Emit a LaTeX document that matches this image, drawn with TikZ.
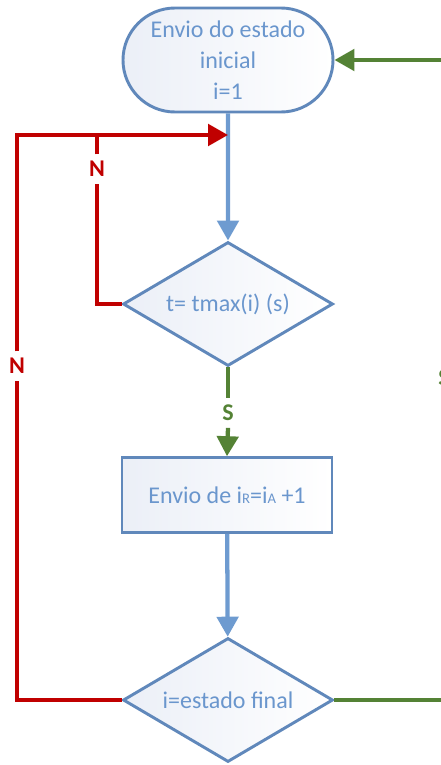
\documentclass[tikz,border=0pt]{standalone}
\usepackage{fontspec}
\setmainfont{Carlito}
\usepackage{xcolor}
\usetikzlibrary{shapes.geometric,shapes.misc,arrows.meta}

\definecolor{flowred}{HTML}{C00000}
\definecolor{flowgreen}{HTML}{548235}
\definecolor{flowblue}{HTML}{6E9BD0}
\definecolor{boxline}{HTML}{6088BB}
\definecolor{boxtext}{HTML}{6A96CD}
\definecolor{boxfill}{HTML}{EBEFF7}

\tikzset{
	box/.style={draw=boxline, line width=2.2pt, left color=boxfill, right color=white,
		text=boxtext, font=\fontsize{18}{23.25}\selectfont, align=center, inner sep=0pt},
	startbox/.style={box, rounded rectangle, minimum width=157.5pt, minimum height=78pt},
	decision/.style={box, diamond, aspect=1.7, minimum width=157.5pt, minimum height=93pt},
	process/.style={box, rectangle, minimum width=157.5pt, minimum height=56pt},
	link/.style={line width=3.2pt},
	tip/.style={-{Triangle[length=15pt,width=16pt]}},
	answer/.style={font=\bfseries\fontsize{18}{18}\selectfont, inner sep=5pt}
}

\begin{document}
\begin{tikzpicture}[x=0.75pt, y=-0.75pt]
		\useasboundingbox (0,0) rectangle (440,765);
		\node[startbox] (start) at (228,60) {Envio do estado\\inicial\\i=1};
		\node[decision] (check) at (228,304) {t= tmax(i) (s)};
		\node[process] (send) at (227,495) {Envio de i{\fontsize{11}{11}\selectfont R}=i{\fontsize{11}{11}\selectfont A} +1};
		\node[decision] (last) at (228,700) {i=estado final};
		\coordinate (join) at (228,135);
		\coordinate (inner) at (97,135);
		\node[answer, text=flowred] (n1) at (97,169) {N};
		\node[answer, text=flowred] (n2) at (17,366) {N};
		\node[answer, text=flowgreen] (s1) at (228,413) {S};
		\node[answer, text=flowgreen] (s2) at (444,378) {S};
		\draw[link, tip, color=flowblue] (start) -- (check);
		\draw[link, tip, color=flowblue] (send) -- (last);
		\draw[link, color=flowgreen] (check.south) -- (s1.north);
		\draw[link, tip, color=flowgreen] (s1.south) -- (send.north);
		\draw[link, color=flowred] (check.west) -| (n1.south);
		\draw[link, color=flowred] (n1.north) -- (inner);
		\draw[link, color=flowred] (last.west) -| (n2.south);
		\draw[link, tip, color=flowred] (n2.north) |- (join);
		\draw[link, color=flowgreen] (last.east) -| (s2.south);
		\draw[link, tip, color=flowgreen] (s2.north) |- (start.east);
		\end{tikzpicture}
\end{document}
